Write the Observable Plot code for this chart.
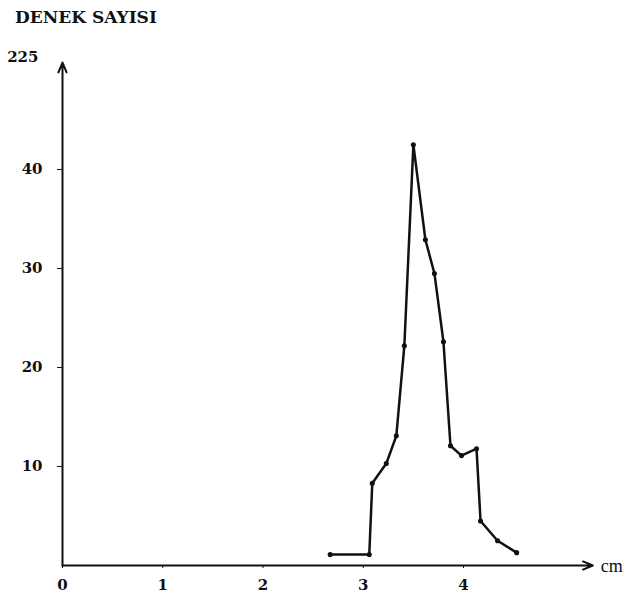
<!DOCTYPE html>
<html>
<head>
<meta charset="utf-8">
<script src="https://cdn.jsdelivr.net/npm/d3@7"></script>
<script src="https://cdn.jsdelivr.net/npm/@observablehq/plot@0.6"></script>
<style>
  body { margin: 0; background: #fff; }
  #title { height: 35px; box-sizing: border-box; padding: 7px 0 0 15px;
           font: bold 17px "DejaVu Serif", serif; color: #111; }
</style>
</head>
<body>
<div id="title">DENEK SAYISI</div>
<div id="chart"></div>
<script>
const lengthCm = [2.67, 3.06, 3.09, 3.23, 3.33, 3.41, 3.50, 3.62, 3.71, 3.80, 3.87, 3.98, 4.13, 4.17, 4.34, 4.53];
const count    = [1.1, 1.1, 8.3, 10.3, 13.1, 22.2, 42.5, 32.9, 29.5, 22.6, 12.1, 11.1, 11.8, 4.5, 2.5, 1.3];
const xTicks = [0, 1, 2, 3, 4];
const yTicks = [10, 20, 30, 40];
const topLabel = "225";
const xUnit = "cm";

const data = lengthCm.map((x, i) => ({x, y: count[i]}));
const font = '"DejaVu Serif", serif';

const chart = Plot.plot({
  width: 625,
  height: 575,
  marginLeft: 62,
  marginBottom: 45,
  marginTop: 0,
  marginRight: 0,
  style: {fontFamily: font, fontSize: "15px", fontWeight: "bold", color: "#111", background: "#fff"},
  x: {domain: [0, 4], range: [62, 463]},
  y: {domain: [0, 40], range: [530, 134]},
  marks: [
    Plot.axisX({ticks: xTicks, tickSize: 3, tickPadding: 11, tickFormat: d => String(d), fontSize: 15, fontWeight: "bold"}),
    Plot.axisY({ticks: yTicks, tickSize: 5, tickPadding: 15, tickFormat: d => String(d), fontSize: 15, fontWeight: "bold"}),
    Plot.arrow([{x1: 0, y1: 0, x2: 0, y2: 50.8}], {x1: "x1", y1: "y1", x2: "x2", y2: "y2", stroke: "#111", strokeWidth: 2, headLength: 8, headAngle: 45}),
    Plot.arrow([{x1: 0, y1: 0, x2: 5.29, y2: 0}], {x1: "x1", y1: "y1", x2: "x2", y2: "y2", stroke: "#111", strokeWidth: 2, headLength: 8, headAngle: 45}),
    Plot.text([topLabel], {x: 0, y: 51.3, dx: -24, textAnchor: "end", fontSize: 15, fontWeight: "bold", fill: "#111"}),
    Plot.text([xUnit], {x: 5.37, y: 0, dy: 1, textAnchor: "start", fontFamily: '"Liberation Serif", serif', fontSize: 18, fontWeight: "normal", fill: "#111"}),
    Plot.line(data, {x: "x", y: "y", stroke: "#111", strokeWidth: 2.5}),
    Plot.dot(data, {x: "x", y: "y", r: 1.8, fill: "#111", stroke: "#111"})
  ]
});
document.getElementById("chart").appendChild(chart);
</script>
</body>
</html>
